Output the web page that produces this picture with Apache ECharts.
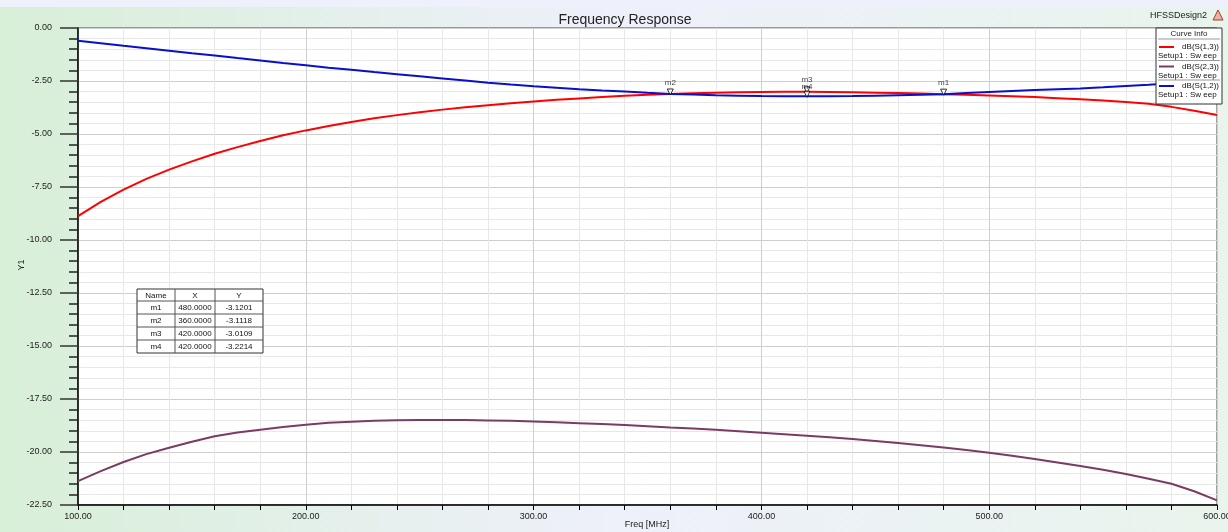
<!DOCTYPE html>
<html><head><meta charset="utf-8">
<script src="https://cdn.jsdelivr.net/npm/echarts@6/dist/echarts.min.js"></script>
<style>html,body{margin:0;padding:0;background:#fff;}#c{width:1228px;height:532px;}</style>
</head><body><div id="c"></div>
<script>
const freq = [100,110,120,130,140,150,160,170,180,190,200,210,220,230,240,250,260,270,280,290,300,310,320,330,340,350,360,370,380,390,400,410,420,430,440,450,460,470,480,490,500,510,520,530,540,550,560,570,580,590,600];
const s13 = [-8.87,-8.20,-7.62,-7.12,-6.68,-6.29,-5.93,-5.62,-5.33,-5.06,-4.83,-4.62,-4.43,-4.26,-4.11,-3.97,-3.85,-3.74,-3.64,-3.55,-3.47,-3.39,-3.32,-3.26,-3.20,-3.15,-3.11,-3.08,-3.05,-3.03,-3.02,-3.01,-3.01,-3.02,-3.03,-3.05,-3.07,-3.09,-3.12,-3.15,-3.18,-3.22,-3.26,-3.31,-3.36,-3.42,-3.49,-3.57,-3.72,-3.90,-4.10];
const s23 = [-21.37,-20.90,-20.47,-20.10,-19.80,-19.52,-19.26,-19.08,-18.95,-18.82,-18.72,-18.62,-18.57,-18.53,-18.50,-18.49,-18.49,-18.49,-18.51,-18.53,-18.56,-18.60,-18.64,-18.68,-18.73,-18.78,-18.84,-18.89,-18.95,-19.02,-19.09,-19.16,-19.23,-19.31,-19.39,-19.48,-19.58,-19.68,-19.79,-19.91,-20.04,-20.18,-20.33,-20.49,-20.66,-20.84,-21.04,-21.26,-21.50,-21.85,-22.28];
const s12 = [-0.60,-0.72,-0.84,-0.95,-1.07,-1.19,-1.30,-1.42,-1.53,-1.65,-1.76,-1.87,-1.97,-2.08,-2.18,-2.28,-2.38,-2.48,-2.58,-2.67,-2.75,-2.82,-2.89,-2.95,-3.00,-3.06,-3.11,-3.14,-3.17,-3.19,-3.21,-3.22,-3.22,-3.22,-3.21,-3.19,-3.17,-3.15,-3.12,-3.07,-3.02,-2.97,-2.93,-2.89,-2.85,-2.80,-2.74,-2.68,-2.61,-2.53,-2.45];
const seriesNames = ['dB(S(1,3))','dB(S(2,3))','dB(S(1,2))'];
const seriesColors = ['#ff0000','#7b3b63','#0a10c8'];
const sweepLabel = 'Setup1 : Sw eep';
const markerNames = ['m1','m2','m3','m4'];
const markerX = [480,360,420,420];
const markerY = [-3.1201,-3.1118,-3.0109,-3.2214];
const yTicks = {min:-22.5, max:0, interval:2.5};
const xTicks = {min:100, max:600, interval:100};
const xAxisTitle = 'Freq [MHz]';
const yAxisTitle = 'Y1';

const chart = echarts.init(document.getElementById('c'));
const FONT = 'Liberation Sans, Arial, sans-serif';

function mk(arr){ return freq.map((f,i)=>[f,arr[i]]); }

// legend graphic
const lg = [];
const LX=1156, LY=28, LW=66;
lg.push({type:'rect',shape:{x:LX,y:LY,width:LW,height:76},style:{fill:'#fff',stroke:'#333',lineWidth:1},z:100});
lg.push({type:'text',x:LX+LW/2,y:LY+6,style:{text:'Curve Info',font:'8px '+FONT,fill:'#222',align:'center',verticalAlign:'middle'},z:101});
lg.push({type:'line',shape:{x1:LX+2,y1:LY+11,x2:LX+LW-2,y2:LY+11},style:{stroke:'#999',lineWidth:1},z:101});
seriesNames.forEach((n,i)=>{
  const y0 = LY+14+i*19.5;
  lg.push({type:'line',shape:{x1:LX+3,y1:y0+5,x2:LX+18,y2:y0+5},style:{stroke:seriesColors[i],lineWidth:2},z:101});
  lg.push({type:'text',x:LX+LW-3,y:y0+5,style:{text:n,font:'8px '+FONT,fill:'#111',align:'right',verticalAlign:'middle'},z:101});
  lg.push({type:'text',x:LX+2,y:y0+14,style:{text:sweepLabel,font:'8px '+FONT,fill:'#111',align:'left',verticalAlign:'middle'},z:101});
  if(i<2) lg.push({type:'line',shape:{x1:LX+2,y1:y0+18.5,x2:LX+LW-2,y2:y0+18.5},style:{stroke:'#999',lineWidth:1},z:101});
});

// marker table
const TX=137, TY=289, cw=[38,40,48], rh=[12,13,13,13,13];
const tb = [];
const totalW = cw[0]+cw[1]+cw[2];
const totalH = rh.reduce((a,b)=>a+b,0);
tb.push({type:'rect',shape:{x:TX,y:TY,width:totalW,height:totalH},style:{fill:'#fff',stroke:'#333',lineWidth:1},z:100});
const rows = [['Name','X','Y']].concat(markerNames.map((n,i)=>[n,markerX[i].toFixed(4),markerY[i].toFixed(4)]));
let yy = TY;
rows.forEach((r,ri)=>{
  let xx = TX;
  r.forEach((c,ci)=>{
    tb.push({type:'text',x:xx+cw[ci]/2,y:yy+rh[ri]/2+0.5,style:{text:c,font:'8px '+FONT,fill:'#111',align:'center',verticalAlign:'middle'},z:101});
    xx += cw[ci];
  });
  yy += rh[ri];
  if(ri<rows.length-1) tb.push({type:'line',shape:{x1:TX,y1:yy,x2:TX+totalW,y2:yy},style:{stroke:'#555',lineWidth:1},z:101});
});
let cx = TX;
for(let i=0;i<2;i++){ cx += cw[i]; tb.push({type:'line',shape:{x1:cx,y1:TY,x2:cx,y2:TY+totalH},style:{stroke:'#555',lineWidth:1},z:101}); }

const option = {
  backgroundColor: {type:'linear',x:0,y:0,x2:1,y2:0,colorStops:[{offset:0,color:'#d8efd8'},{offset:0.5,color:'#eef0fa'},{offset:1,color:'#e8f4ec'}]},
  animation:false,
  title:{text:'Frequency Response',left:620,top:8,textAlign:'center',textStyle:{fontFamily:FONT,fontSize:14,fontWeight:'normal',color:'#222'}},
  grid:{left:78,right:11,top:28,bottom:27,outerBoundsMode:'none',containLabel:false,show:true,backgroundColor:'#fff',borderColor:'#444',borderWidth:1},
  xAxis:{type:'value',min:xTicks.min,max:xTicks.max,interval:xTicks.interval,
    axisLine:{show:true,onZero:false,lineStyle:{color:'#000',width:1.5}},
    axisTick:{show:true,length:5,lineStyle:{color:'#000'}},
    minorTick:{show:true,splitNumber:5,length:5,lineStyle:{color:'#000'}},
    axisLabel:{fontFamily:FONT,fontSize:9,color:'#222',margin:7,formatter:v=>v.toFixed(2)},
    splitLine:{show:true,lineStyle:{color:'#cfcfcf',width:1}},
    minorSplitLine:{show:true,lineStyle:{color:'#e8e8e8',width:1}}},
  yAxis:{type:'value',min:yTicks.min,max:yTicks.max,interval:yTicks.interval,
    axisLine:{show:true,onZero:false,lineStyle:{color:'#000',width:1.5}},
    axisTick:{show:true,length:18,lineStyle:{color:'#333',width:1.5}},
    minorTick:{show:true,splitNumber:5,length:9,lineStyle:{color:'#222',width:1.5}},
    axisLabel:{fontFamily:FONT,fontSize:9,color:'#222',margin:26,formatter:v=>v.toFixed(2)},
    splitLine:{show:true,lineStyle:{color:'#cfcfcf',width:1}},
    minorSplitLine:{show:true,lineStyle:{color:'#e8e8e8',width:1}}},
  series:[
    {name:seriesNames[0],type:'line',data:mk(s13),showSymbol:false,lineStyle:{color:seriesColors[0],width:2},z:3},
    {name:seriesNames[1],type:'line',data:mk(s23),showSymbol:false,lineStyle:{color:seriesColors[1],width:2},z:3},
    {name:seriesNames[2],type:'line',data:mk(s12),showSymbol:false,lineStyle:{color:seriesColors[2],width:2},z:4},
    {type:'scatter',data:markerNames.map((n,i)=>({name:n,value:[markerX[i],markerY[i]],label:{offset:[0,n==='m3'?-1:(n==='m4'?2:0)]}})),
      symbol:'triangle',symbolRotate:180,symbolSize:[6,6],symbolOffset:[0,-2],
      itemStyle:{color:'#fff',borderColor:'#000',borderWidth:1},z:10,
      label:{show:true,position:'top',distance:2,formatter:p=>p.name,fontFamily:FONT,fontSize:8,color:'#111'}}
  ],
  graphic:[
    {type:'rect',shape:{x:0,y:0,width:1228,height:7},style:{fill:'#eef0fb'},z:-1,silent:true},
    {type:'text',x:1150,y:16,style:{text:'HFSSDesign2',font:'9px '+FONT,fill:'#222',align:'left',verticalAlign:'middle'},z:100},
    {type:'polygon',shape:{points:[[1218,10],[1213,20],[1223,20]]},style:{fill:'#e8b0a8',stroke:'#a04030',lineWidth:1},z:100},
    {type:'text',x:647,y:525,style:{text:xAxisTitle,font:'9px '+FONT,fill:'#222',align:'center',verticalAlign:'middle'},z:100},
    {type:'text',x:22,y:265,rotation:Math.PI/2,style:{text:yAxisTitle,font:'9px '+FONT,fill:'#222',align:'center',verticalAlign:'middle'},z:100},
    ...lg, ...tb
  ]
};
chart.setOption(option);
</script></body></html>
